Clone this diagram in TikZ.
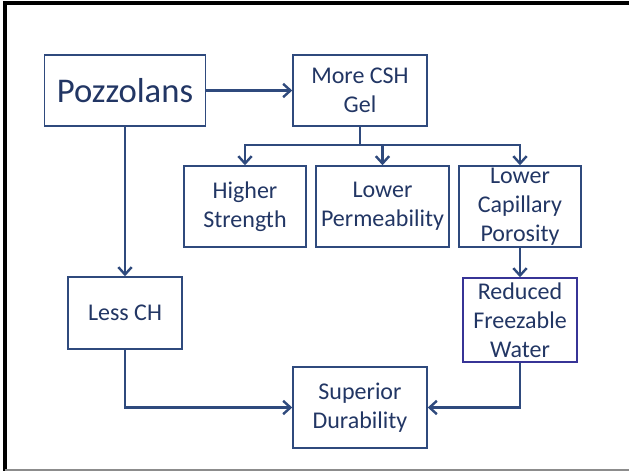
\documentclass[tikz,border=0pt]{standalone}
\usepackage{fontspec}
\setmainfont{Carlito}
\usepackage{tikz}
\usetikzlibrary{positioning,arrows.meta,calc}
\definecolor{pzBorder}{RGB}{47,74,125}
\definecolor{pzText}{RGB}{34,54,100}
\definecolor{pzViolet}{RGB}{55,52,150}
\tikzset{
  pzbox/.style={rectangle, draw=pzBorder, line width=1.1pt, inner sep=0pt,
                align=center, text=pzText, font=\fontsize{18pt}{21.75pt}\selectfont},
  pzsize/.style 2 args={minimum width=#1*0.75pt, minimum height=#2*0.75pt},
  pzline/.style={draw=pzBorder, line width=1.8pt},
  pzarrow/.style={pzline, -{Straight Barb[length=5.5pt,width=10pt,line width=1.8pt]}},
}

\begin{document}
\begin{tikzpicture}[x=0.75pt, y=-0.75pt]
  \useasboundingbox (0,0) rectangle (629,471);
  % frame
  \draw[black, line width=2.4pt] (5,471) -- (5,3) -- (629,3);
  \draw[black!45, line width=1.5pt] (5,470) -- (629,470);
  % boxes
  \node[pzbox, pzsize={161}{71}, font=\fontsize{26pt}{30pt}\selectfont] (pozz) at (125,90.5) {Pozzolans};
  \node[pzbox, pzsize={134}{71}] (csh) at (360,90.5) {More CSH\\Gel};
  \node[pzbox, pzsize={122}{81}] (strength) at (245,206.5) {Higher\\Strength};
  \node[pzbox, pzsize={133}{81}] (perm) at (382.5,206.5) {Lower\\Permeability};
  \node[pzbox, pzsize={122}{81}] (capil) at (520,206.5) {Lower\\Capillary\\Porosity};
  \node[pzbox, pzsize={114}{72}] (lessch) at (125,313) {Less CH};
  \node[pzbox, pzsize={114}{84}, draw=pzViolet] (freeze) at (520,320) {Reduced\\Freezable\\Water};
  \node[pzbox, pzsize={134}{81}] (durab) at (360,407.5) {Superior\\Durability};
  % connectors
  \coordinate (split) at (360,145);
  \draw[pzarrow] (pozz) -- (csh);
  \draw[pzline] (csh) -- (split);
  \draw[pzarrow] (split) -| (strength);
  \draw[pzarrow] (split) -| (perm);
  \draw[pzarrow] (split) -| (capil);
  \draw[pzarrow] (pozz) -- (lessch);
  \draw[pzarrow] (capil) -- (freeze);
  \draw[pzarrow] (lessch) |- (durab);
  \draw[pzarrow] (freeze) |- (durab);
\end{tikzpicture}
\end{document}
